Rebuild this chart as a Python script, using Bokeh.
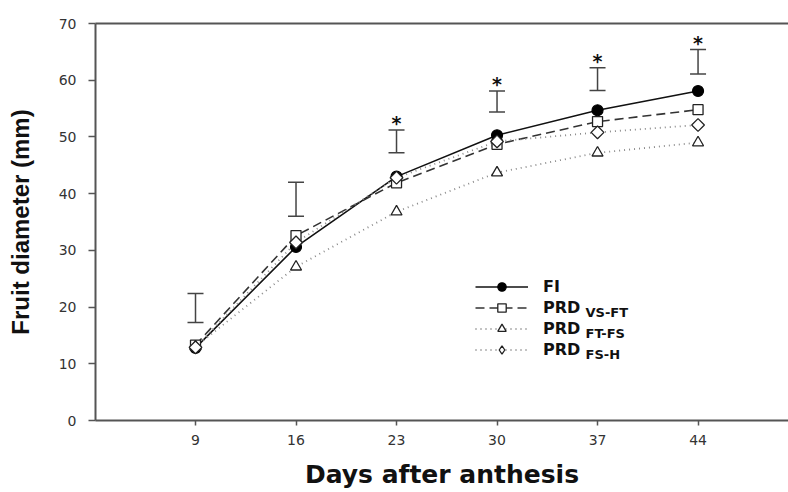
import numpy as np
from bokeh.plotting import figure
from bokeh.models import (Range1d, LinearAxis, FixedTicker, Whisker, TeeHead,
                          ColumnDataSource, Legend, LegendItem, Label)
from bokeh.core.properties import value
from bokeh.embed import file_html
from bokeh.resources import INLINE

# ---- data ----
days = [9, 16, 23, 30, 37, 44]
fi = [12.8, 30.6, 43.0, 50.3, 54.7, 58.1]
prd_vs_ft = [13.3, 32.6, 41.9, 48.7, 52.7, 54.8]
prd_ft_fs = [13.0, 27.1, 36.8, 43.7, 47.2, 49.0]
prd_fs_h = [12.9, 31.4, 42.8, 49.2, 50.8, 52.1]
err_upper = [22.4, 42.0, 51.2, 58.1, 62.2, 65.4]
err_lower = [17.3, 36.0, 47.2, 54.4, 58.2, 61.1]
significance = ["", "", "*", "*", "*", "*"]
y_ticks = [0, 10, 20, 30, 40, 50, 60, 70]

series_labels = ["FI", "PRD", "PRD", "PRD"]
series_subs = ["", "VS-FT", "FT-FS", "FS-H"]

X0, X1 = 2.035, 50.30
W, H = 788, 492
ML, MR, MT, MB = 95, 0, 23, 72

p = figure(width=W, height=H, output_backend="svg", toolbar_location=None,
           x_range=Range1d(X0, X1), y_range=Range1d(0, 70),
           min_border_left=ML, min_border_right=MR, min_border_top=MT,
           min_border_bottom=MB, background_fill_color="white",
           border_fill_color="white", outline_line_color=None)
p.xgrid.visible = False
p.ygrid.visible = False

AX = "#555555"
for ax in (p.xaxis[0], p.yaxis[0]):
    ax.axis_line_color = AX
    ax.axis_line_width = 2
    ax.major_tick_line_color = AX
    ax.major_tick_line_width = 1.5
    ax.major_tick_in = 0
    ax.minor_tick_line_color = None
    ax.major_label_text_font = "DejaVu Sans"
    ax.major_label_text_font_size = "14px"
    ax.major_label_text_color = "#333333"
    ax.axis_label_text_font_style = "bold"
    ax.axis_label_text_color = "#111111"

p.xaxis.ticker = FixedTicker(ticks=days)
p.xaxis.major_tick_out = 5
p.xaxis.major_label_standoff = 9
p.xaxis.axis_label = "Days after anthesis"
p.xaxis.axis_label_text_font = "DejaVu Sans"
p.xaxis.axis_label_text_font_size = "25px"
p.xaxis.axis_label_standoff = 12

p.yaxis.ticker = FixedTicker(ticks=y_ticks)
p.yaxis.major_tick_out = 7
p.yaxis.major_label_standoff = 12
p.yaxis.axis_label = "Fruit diameter (mm)"
p.yaxis.axis_label_text_font = "Liberation Sans"
p.yaxis.axis_label_text_font_size = "24px"
p.yaxis.axis_label_standoff = 22

top = LinearAxis(ticker=FixedTicker(ticks=[]), axis_line_color=AX, axis_line_width=2,
                 major_tick_line_color=None, minor_tick_line_color=None,
                 major_label_text_font_size="0px")
p.add_layout(top, "above")

# ---- error bars and significance ----
src_err = ColumnDataSource(dict(base=days, upper=err_upper, lower=err_lower))
p.add_layout(Whisker(source=src_err, base="base", upper="upper", lower="lower",
                     line_color="#444444", line_width=1.5,
                     upper_head=TeeHead(size=16, line_color="#444444", line_width=1.5),
                     lower_head=TeeHead(size=16, line_color="#444444", line_width=1.5)))
sig_x = [d for d, s in zip(days, significance) if s]
sig_y = [u for u, s in zip(err_upper, significance) if s]
sig_t = [s for s in significance if s]
p.text(x=sig_x, y=sig_y, text=sig_t, text_font=value("DejaVu Sans"),
       text_font_style="bold", text_font_size="19px", text_color="#111111",
       text_align="center", text_baseline="alphabetic", y_offset=-7)

# ---- series ----
l1 = p.line(days, fi, line_color="#111111", line_width=1.6)
l2 = p.line(days, prd_vs_ft, line_color="#333333", line_width=1.6, line_dash="9 5")
l3 = p.line(days, prd_ft_fs, line_color="#8a8a8a", line_width=1.8, line_dash="1 4")
l4 = p.line(days, prd_fs_h, line_color="#8a8a8a", line_width=1.8, line_dash="1 4")

s1 = p.scatter(days, fi, marker="circle", size=11, fill_color="#000000",
               line_color="#000000", line_width=1.2)
s2 = p.scatter(days, prd_vs_ft, marker="square", size=10, fill_color="white",
               line_color="#222222", line_width=1.3)
s3 = p.scatter(days, prd_ft_fs, marker="triangle", size=11, fill_color="white",
               line_color="#222222", line_width=1.3)
# diamond key for the legend (legend glyphs are drawn unrotated); it sits
# entirely underneath the rotated-square markers drawn next
s4_key = p.scatter(days, prd_fs_h, marker="diamond", size=10, fill_color="white",
                   line_color="#222222", line_width=1.3)
s4 = p.scatter(days, prd_fs_h, marker="square", angle=np.pi / 4, size=9,
               fill_color="white", line_color="#222222", line_width=1.3)

items = [LegendItem(label=lab, renderers=r) for lab, r in
         zip(series_labels, [[l1, s1], [l2, s2], [l3, s3], [l4, s4_key]])]
legend = Legend(items=items, location=(380, 60), orientation="vertical",
                glyph_width=53, glyph_height=21, label_height=21, spacing=0,
                label_standoff=15, padding=0, margin=0,
                border_line_color=None, background_fill_alpha=0,
                label_text_font="DejaVu Sans", label_text_font_style="bold",
                label_text_font_size="16px", label_text_color="#111111")
p.add_layout(legend, "center")

# subscripts of the legend labels
def dx(px):
    return X0 + (px - ML) * (X1 - X0) / (W - ML - MR)

def dy(py):
    return (H - MB - py) * 70.0 / (H - MT - MB)

row_centers = [287, 308, 329, 350]
for sub, rc in zip(series_subs, row_centers):
    if sub:
        p.add_layout(Label(x=dx(585), y=dy(rc + 4), text=sub,
                           text_font="DejaVu Sans", text_font_style="bold",
                           text_font_size="13px", text_color="#111111",
                           text_baseline="middle", text_align="left"))

open("out.html", "w").write(file_html(p, INLINE))
